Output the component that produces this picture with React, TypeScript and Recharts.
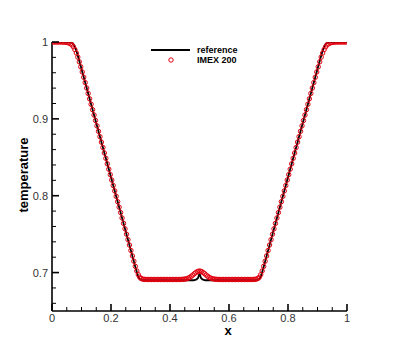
import React from "react";
import { LineChart, Line, XAxis, YAxis, Customized } from "recharts";

// IMEX 200 cell centres
const imexX = [
  0.0025, 0.0075, 0.0125, 0.0175, 0.0225, 0.0275, 0.0325, 0.0375, 0.0425, 0.0475,
  0.0525, 0.0575, 0.0625, 0.0675, 0.0725, 0.0775, 0.0825, 0.0875, 0.0925, 0.0975,
  0.1025, 0.1075, 0.1125, 0.1175, 0.1225, 0.1275, 0.1325, 0.1375, 0.1425, 0.1475,
  0.1525, 0.1575, 0.1625, 0.1675, 0.1725, 0.1775, 0.1825, 0.1875, 0.1925, 0.1975,
  0.2025, 0.2075, 0.2125, 0.2175, 0.2225, 0.2275, 0.2325, 0.2375, 0.2425, 0.2475,
  0.2525, 0.2575, 0.2625, 0.2675, 0.2725, 0.2775, 0.2825, 0.2875, 0.2925, 0.2975,
  0.3025, 0.3075, 0.3125, 0.3175, 0.3225, 0.3275, 0.3325, 0.3375, 0.3425, 0.3475,
  0.3525, 0.3575, 0.3625, 0.3675, 0.3725, 0.3775, 0.3825, 0.3875, 0.3925, 0.3975,
  0.4025, 0.4075, 0.4125, 0.4175, 0.4225, 0.4275, 0.4325, 0.4375, 0.4425, 0.4475,
  0.4525, 0.4575, 0.4625, 0.4675, 0.4725, 0.4775, 0.4825, 0.4875, 0.4925, 0.4975,
  0.5025, 0.5075, 0.5125, 0.5175, 0.5225, 0.5275, 0.5325, 0.5375, 0.5425, 0.5475,
  0.5525, 0.5575, 0.5625, 0.5675, 0.5725, 0.5775, 0.5825, 0.5875, 0.5925, 0.5975,
  0.6025, 0.6075, 0.6125, 0.6175, 0.6225, 0.6275, 0.6325, 0.6375, 0.6425, 0.6475,
  0.6525, 0.6575, 0.6625, 0.6675, 0.6725, 0.6775, 0.6825, 0.6875, 0.6925, 0.6975,
  0.7025, 0.7075, 0.7125, 0.7175, 0.7225, 0.7275, 0.7325, 0.7375, 0.7425, 0.7475,
  0.7525, 0.7575, 0.7625, 0.7675, 0.7725, 0.7775, 0.7825, 0.7875, 0.7925, 0.7975,
  0.8025, 0.8075, 0.8125, 0.8175, 0.8225, 0.8275, 0.8325, 0.8375, 0.8425, 0.8475,
  0.8525, 0.8575, 0.8625, 0.8675, 0.8725, 0.8775, 0.8825, 0.8875, 0.8925, 0.8975,
  0.9025, 0.9075, 0.9125, 0.9175, 0.9225, 0.9275, 0.9325, 0.9375, 0.9425, 0.9475,
  0.9525, 0.9575, 0.9625, 0.9675, 0.9725, 0.9775, 0.9825, 0.9875, 0.9925, 0.9975,
];

const imexT = [
  1, 1, 1, 1, 1, 1, 1, 0.9999, 0.9998, 0.9996,
  0.9993, 0.9987, 0.9978, 0.9962, 0.9937, 0.9902, 0.9857, 0.9803, 0.9742, 0.9677,
  0.961, 0.9541, 0.9472, 0.9401, 0.9331, 0.9261, 0.919, 0.912, 0.905, 0.8979,
  0.8909, 0.8838, 0.8768, 0.8697, 0.8627, 0.8556, 0.8486, 0.8415, 0.8345, 0.8274,
  0.8204, 0.8133, 0.8063, 0.7992, 0.7922, 0.7851, 0.7781, 0.771, 0.764, 0.7569,
  0.7499, 0.7428, 0.7358, 0.7287, 0.7217, 0.7148, 0.7081, 0.7021, 0.6972, 0.6939,
  0.6922, 0.6915, 0.6912, 0.6911, 0.691, 0.691, 0.691, 0.691, 0.691, 0.691,
  0.691, 0.691, 0.691, 0.691, 0.691, 0.691, 0.691, 0.691, 0.691, 0.691,
  0.691, 0.691, 0.691, 0.691, 0.691, 0.691, 0.691, 0.6911, 0.6912, 0.6914,
  0.6917, 0.6921, 0.6929, 0.6939, 0.6953, 0.6968, 0.6985, 0.7, 0.7012, 0.7019,
  0.7019, 0.7012, 0.7, 0.6985, 0.6968, 0.6953, 0.6939, 0.6929, 0.6921, 0.6917,
  0.6914, 0.6912, 0.6911, 0.691, 0.691, 0.691, 0.691, 0.691, 0.691, 0.691,
  0.691, 0.691, 0.691, 0.691, 0.691, 0.691, 0.691, 0.691, 0.691, 0.691,
  0.691, 0.691, 0.691, 0.691, 0.691, 0.691, 0.6911, 0.6912, 0.6915, 0.6922,
  0.6939, 0.6972, 0.7021, 0.7081, 0.7148, 0.7217, 0.7287, 0.7358, 0.7428, 0.7499,
  0.7569, 0.764, 0.771, 0.7781, 0.7851, 0.7922, 0.7992, 0.8063, 0.8133, 0.8204,
  0.8274, 0.8345, 0.8415, 0.8486, 0.8556, 0.8627, 0.8697, 0.8768, 0.8838, 0.8909,
  0.8979, 0.905, 0.912, 0.919, 0.9261, 0.9331, 0.9401, 0.9472, 0.9541, 0.961,
  0.9677, 0.9742, 0.9803, 0.9857, 0.9902, 0.9937, 0.9962, 0.9978, 0.9987, 0.9993,
  0.9996, 0.9998, 0.9999, 1, 1, 1, 1, 1, 1, 1,
];

// reference solution
const refX = [
  0, 0.04, 0.05, 0.06, 0.065, 0.07, 0.075, 0.08, 0.085, 0.09, 0.1, 0.2,
  0.28, 0.285, 0.29, 0.295, 0.3, 0.305, 0.31,
  0.48, 0.49, 0.495, 0.5, 0.505, 0.51, 0.52,
  0.69, 0.695, 0.7, 0.705, 0.71, 0.715, 0.72,
  0.8, 0.9, 0.91, 0.915, 0.92, 0.925, 0.93, 0.935, 0.94, 0.95, 0.96, 1,
];
const refT = [
  1, 1, 1, 0.9998, 0.9995, 0.9984, 0.9959, 0.9914, 0.9855, 0.9788, 0.9649, 0.8239,
  0.711, 0.7041, 0.6976, 0.6927, 0.6906, 0.6901, 0.69,
  0.69, 0.691, 0.693, 0.699, 0.693, 0.691, 0.69,
  0.69, 0.6901, 0.6906, 0.6927, 0.6976, 0.7041, 0.711,
  0.8239, 0.9649, 0.9788, 0.9855, 0.9914, 0.9959, 0.9984, 0.9995, 0.9998, 1, 1, 1,
];

const xTicks = [0, 0.05, 0.1, 0.15, 0.2, 0.25, 0.3, 0.35, 0.4, 0.45, 0.5, 0.55, 0.6, 0.65, 0.7, 0.75, 0.8, 0.85, 0.9, 0.95, 1];
const yTicks = [0.66, 0.68, 0.7, 0.72, 0.74, 0.76, 0.78, 0.8, 0.82, 0.84, 0.86, 0.88, 0.9, 0.92, 0.94, 0.96, 0.98, 1];

const refData = refX.map((x, i) => ({ x, t: refT[i] }));
const imexData = imexX.map((x, i) => ({ x, t: imexT[i] }));

const FONT = "'Liberation Sans', Arial, Helvetica, sans-serif";
const RED = "#e3000f";

const fmt = (v: number) => parseFloat(v.toFixed(2)).toString();

function XTick(props: any) {
  const { x, y, payload } = props;
  const v = payload.value;
  const major = Math.abs(v * 5 - Math.round(v * 5)) < 1e-6;
  return (
    <g>
      <line x1={x} x2={x} y1={y} y2={y - (major ? 7 : 4)} stroke="#000" strokeWidth={major ? 1.6 : 1} />
      {major && (
        <text x={x} y={y + 11} textAnchor="middle" fontFamily={FONT} fontSize={11} fill="#333">
          {fmt(v)}
        </text>
      )}
    </g>
  );
}

function YTick(props: any) {
  const { x, y, payload } = props;
  const v = payload.value;
  const major = Math.abs(v * 10 - Math.round(v * 10)) < 1e-6;
  return (
    <g>
      <line x1={x} x2={x + (major ? 7 : 4)} y1={y} y2={y} stroke="#000" strokeWidth={major ? 1.6 : 1} />
      {major && (
        <text x={x - 4} y={y + 4} textAnchor="end" fontFamily={FONT} fontSize={11} fill="#333">
          {fmt(v)}
        </text>
      )}
    </g>
  );
}

function Decorations() {
  return (
    <g fontFamily={FONT}>
      <line x1={151} x2={190} y1={50} y2={50} stroke="#000" strokeWidth={2} />
      <text x={197} y={53.3} fontSize={9} fontWeight="bold" fill="#000">reference</text>
      <circle cx={171} cy={60} r={2.2} fill="none" stroke={RED} strokeWidth={1} />
      <text x={197} y={62.5} fontSize={9} fontWeight="bold" fill="#000">IMEX 200</text>
      <text
        x={28}
        y={175}
        transform="rotate(-90 28 175)"
        textAnchor="middle"
        fontSize={13}
        fontWeight="bold"
        fill="#000"
      >
        temperature
      </text>
      <text x={228} y={335} textAnchor="middle" fontSize={13} fontWeight="bold" fill="#000">x</text>
    </g>
  );
}

export default function App() {
  return (
    <div style={{ position: "absolute", left: 0, top: 0, width: 395, height: 351, background: "#fff" }}>
      <LineChart width={395} height={351} margin={{ top: 42, right: 48, bottom: 0, left: 0 }}>
        <XAxis
          dataKey="x"
          type="number"
          domain={[0, 1]}
          ticks={xTicks}
          interval={0}
          tickSize={0}
          tickMargin={0}
          tick={<XTick />}
          height={40}
          axisLine={{ stroke: "#000", strokeWidth: 1.6 }}
          allowDataOverflow
        />
        <YAxis
          dataKey="t"
          type="number"
          domain={[0.65, 1]}
          ticks={yTicks}
          interval={0}
          tickSize={0}
          tickMargin={0}
          tick={<YTick />}
          width={52}
          axisLine={{ stroke: "#000", strokeWidth: 1.6 }}
          allowDataOverflow
        />
        <Line
          data={refData}
          dataKey="t"
          type="linear"
          stroke="#000"
          strokeWidth={1.8}
          dot={false}
          isAnimationActive={false}
        />
        <Line
          data={imexData}
          dataKey="t"
          type="linear"
          stroke="none"
          dot={{ r: 2.2, fill: "none", stroke: RED, strokeWidth: 1 }}
          isAnimationActive={false}
        />
        <Customized component={Decorations} />
      </LineChart>
    </div>
  );
}
